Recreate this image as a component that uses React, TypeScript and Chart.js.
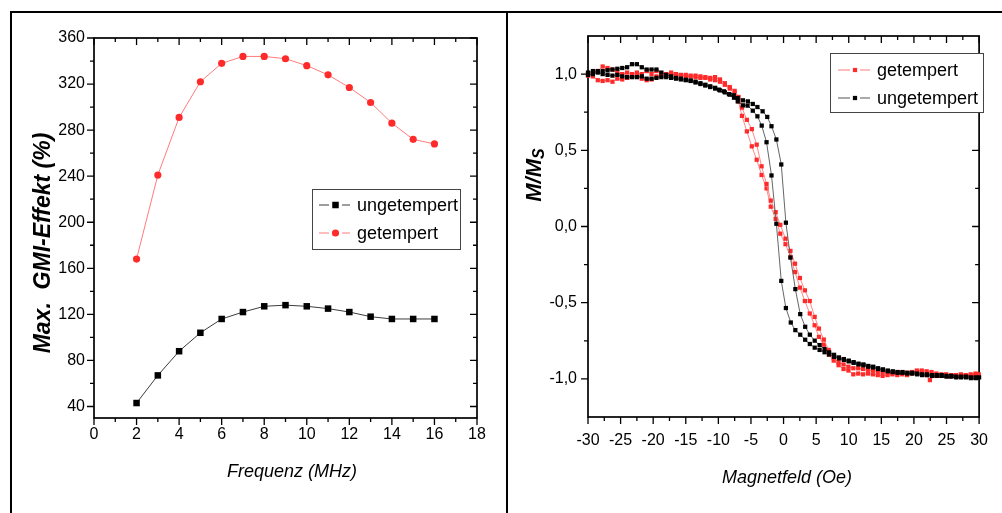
import React, { useEffect, useRef } from "react";
import { Chart, registerables } from "chart.js";

Chart.register(...registerables);

const FONT = '"Liberation Sans", Arial, Helvetica, sans-serif';

// ---------- left panel: max. GMI effect vs frequency ----------
const FREQUENZ = [2, 3, 4, 5, 6, 7, 8, 9, 10, 11, 12, 13, 14, 15, 16];
const GMI_UNGETEMPERT = [43, 67, 88, 104, 116, 122, 127, 128, 127, 125, 122, 118, 116, 116, 116];
const GMI_GETEMPERT = [168, 241, 291, 322, 338, 344, 344, 342, 336, 328, 317, 304, 286, 272, 268];
const FREQ_TICKS = [0, 2, 4, 6, 8, 10, 12, 14, 16, 18];
const GMI_TICKS = [40, 80, 120, 160, 200, 240, 280, 320, 360];

// ---------- right panel: hysteresis loops M/Ms vs field ----------
const FELD_TICKS = [-30, -25, -20, -15, -10, -5, 0, 5, 10, 15, 20, 25, 30];
const MMS_TICKS = [-1, -0.5, 0, 0.5, 1];

// ungetempert, branch A (shifted to positive field)
const UNG_A_X = [
  -30, -29.25, -28.5, -27.75, -27, -26.25, -25.5, -24.75, -24, -23.25, -22.5, -21.75, -21, -20.25,
  -19.5, -18.75, -18, -17.25, -16.5, -15.75, -15, -14.25, -13.5, -12.75, -12, -11.25, -10.5,
  -9.9, -9.14, -8.38, -7.63, -7.03, -6.23, -5.47, -4.72, -4.01, -3.21, -2.5, -1.85, -1.1, -0.35,
  0.36, 1.06, 1.81, 2.56, 3.32, 4.03, 4.78, 5.53, 6.29,
  7.0, 7.75, 8.5, 9.25, 10, 10.75, 11.5, 12.25, 13, 13.75, 14.5, 15.25, 16, 16.75, 17.5, 18.25,
  19, 19.75, 20.5, 21.25, 22, 22.75, 23.5, 24.25, 25, 25.75, 26.5, 27.25, 28, 28.75, 29.5,
];
const UNG_A_Y = [
  1.01, 1.02, 1.02, 1.02, 1.025, 1.03, 1.035, 1.04, 1.045, 1.065, 1.065, 1.045, 1.03, 1.03,
  1.03, 1.01, 0.995, 0.985, 0.975, 0.97, 0.963, 0.958, 0.95, 0.94, 0.93, 0.92, 0.91,
  0.898, 0.887, 0.869, 0.861, 0.843, 0.828, 0.821, 0.804, 0.784, 0.756, 0.719, 0.658, 0.571, 0.407,
  0.025, -0.204, -0.411, -0.575, -0.658, -0.71, -0.749, -0.778, -0.804,
  -0.826, -0.842, -0.859, -0.87, -0.88, -0.89, -0.9, -0.905, -0.915, -0.92, -0.93, -0.938, -0.945,
  -0.95, -0.955, -0.955, -0.96, -0.96, -0.965, -0.97, -0.97, -0.975, -0.975, -0.975, -0.98, -0.98,
  -0.985, -0.985, -0.985, -0.99, -0.99,
];
// ungetempert, branch B (shifted to negative field)
const UNG_B_X = [
  -30, -29.25, -28.5, -27.75, -27, -26.25, -25.5, -24.75, -24, -23.25, -22.5, -21.75, -21, -20.25,
  -19.5, -18.75, -18, -17.25, -16.5, -15.75, -15, -14.25, -13.5, -12.75, -12, -11.25, -10.5,
  -9.75, -9, -8.25, -7.6,
  -7.03, -6.23, -5.52, -4.72, -4.01, -3.35, -2.61, -1.85, -1.1, -0.35, 0.36, 1.11, 1.81, 2.56,
  3.32, 4.03, 4.78, 5.53, 6.29,
  7.0, 7.75, 8.5, 9.25, 10, 10.75, 11.5, 12.25, 13, 13.75, 14.5, 15.25, 16, 16.75, 17.5, 18.25,
  19, 19.75, 20.5, 21.25, 22, 22.75, 23.5, 24.25, 25, 25.75, 26.5, 27.25, 28, 28.75, 29.5, 30,
];
const UNG_B_Y = [
  0.995, 1.0, 1.01, 1.0, 0.995, 0.99, 0.995, 0.985, 0.98, 0.98, 0.98, 0.985, 0.97, 0.97,
  0.975, 0.98, 0.98, 0.975, 0.97, 0.965, 0.96, 0.955, 0.945, 0.935, 0.925, 0.915, 0.905,
  0.893, 0.88, 0.865, 0.845,
  0.821, 0.795, 0.793, 0.76, 0.723, 0.662, 0.553, 0.335, 0.018, -0.357, -0.535, -0.63, -0.68, -0.71,
  -0.743, -0.771, -0.795, -0.81, -0.825,
  -0.84, -0.855, -0.865, -0.875, -0.885, -0.895, -0.905, -0.91, -0.92, -0.925, -0.935, -0.94, -0.95,
  -0.955, -0.96, -0.96, -0.965, -0.965, -0.97, -0.975, -0.975, -0.98, -0.98, -0.98, -0.985, -0.985,
  -0.99, -0.99, -0.99, -0.995, -0.995, -0.99,
];
// getempert, branch A (shifted to positive field)
const GET_A_X = [
  -30, -29.25, -28.5, -27.75, -27, -26.25, -25.5, -24.75, -24, -23.25, -22.5, -21.75, -21, -20.25,
  -19.5, -18.75, -18, -17.25, -16.5, -15.75, -15, -14.25, -13.5, -12.75, -12, -11.25, -10.5,
  -9.75, -9, -8.25, -7.5,
  -6.9, -6.38, -5.63, -4.87, -4.12, -3.37, -2.61, -1.96, -1.21, -0.5, 0.3, 1.06, 1.76, 2.51, 3.27,
  4.02, 4.77, 5.43, 6.18, 6.93,
  7.69, 8.44, 9.2, 9.95, 10.7, 11.45, 12.2, 12.95, 13.7, 14.45, 15.2, 15.95, 16.7, 17.45, 18.2,
  18.95, 19.7, 20.45, 21.2, 21.95, 22.7, 23.45, 24.2, 24.95, 25.7, 26.45, 27.2, 27.95, 28.7, 29.45,
];
const GET_A_Y = [
  1.0, 1.005, 1.02, 1.05, 1.04, 1.03, 1.01, 1.0, 1.01, 1.0, 1.01, 1.0, 1.02, 1.0,
  1.02, 1.005, 1.0, 1.01, 1.0, 0.995, 0.995, 0.99, 0.99, 0.985, 0.98, 0.975, 0.98,
  0.965, 0.94, 0.915, 0.89,
  0.85, 0.78, 0.7, 0.639, 0.537, 0.395, 0.279, 0.17, 0.094, 0.011, -0.08, -0.16, -0.244, -0.338, -0.419,
  -0.489, -0.593, -0.67, -0.742, -0.81,
  -0.86, -0.89, -0.905, -0.92, -0.93, -0.93, -0.935, -0.94, -0.945, -0.95, -0.955, -0.955, -0.96,
  -0.955, -0.96, -0.96, -0.955, -0.945, -0.945, -0.95, -0.955, -0.965, -0.97, -0.97, -0.975, -0.975,
  -0.97, -0.975, -0.97, -0.965,
];
// getempert, branch B (shifted to negative field)
const GET_B_X = [
  -30, -29.25, -28.5, -27.75, -27, -26.25, -25.5, -24.75, -24, -23.25, -22.5, -21.75, -21, -20.25,
  -19.5, -18.75, -18, -17.25, -16.5, -15.75, -15, -14.25, -13.5, -12.75, -12, -11.25, -10.5,
  -9.75, -9, -8.25, -7.5,
  -6.9, -6.38, -5.63, -4.87, -4.12, -3.37, -2.61, -1.96, -1.21, -0.5, 0.3, 1.06, 1.76, 2.51, 3.27,
  4.02, 4.77, 5.43, 6.18, 6.93,
  7.69, 8.44, 9.2, 9.95, 10.7, 11.45, 12.2, 12.95, 13.7, 14.45, 15.2, 15.95, 16.7, 17.45, 18.2,
  18.95, 19.7, 20.45, 21.2, 21.95, 22.45, 23.2, 23.95, 24.7, 25.45, 26.2, 26.95, 27.7, 28.45, 29.2, 29.95,
];
const GET_B_Y = [
  0.99, 0.985, 0.96, 0.955, 0.96, 0.95, 0.97, 0.965, 0.975, 0.985, 0.99, 0.97, 0.96, 0.965,
  0.985, 0.99, 0.99, 1.0, 0.995, 0.99, 0.985, 0.985, 0.98, 0.975, 0.975, 0.965, 0.96,
  0.95, 0.93, 0.905, 0.875,
  0.82, 0.726, 0.624, 0.526, 0.438, 0.338, 0.25, 0.13, 0.05, -0.047, -0.116, -0.2, -0.299, -0.401, -0.489,
  -0.571, -0.648, -0.724, -0.775, -0.84,
  -0.88, -0.91, -0.935, -0.945, -0.97, -0.965, -0.97, -0.965, -0.97, -0.975, -0.98, -0.975, -0.97,
  -0.975, -0.97, -0.975, -0.965, -0.96, -0.965, -0.975, -1.008, -0.98, -0.98, -0.98, -0.985, -0.98,
  -0.985, -0.98, -0.985, -0.975, -0.97,
];

const BLACK = "#000000";
const BLACK_LINE = "#3c3c3c";
const RED = "#ff2b2b";
const RED_LINE = "#ff7b7b";

const pts = (xs: number[], ys: number[]) => xs.map((x, i) => ({ x, y: ys[i] }));

function framePlugin(id: string, major: number, minor: number) {
  return {
    id,
    beforeDatasetsDraw(chart: any) {
      const { ctx, chartArea: a } = chart;
      const xs = chart.scales.x;
      const ys = chart.scales.y;
      const xv = xs.ticks.map((t: any) => t.value);
      const yv = ys.ticks.map((t: any) => t.value);
      const mids = (v: number[]) => v.slice(0, -1).map((u, i) => (u + v[i + 1]) / 2);
      ctx.save();
      ctx.strokeStyle = "#000";
      ctx.lineWidth = 1.3;
      ctx.beginPath();
      const xt = (v: number, len: number) => {
        const p = xs.getPixelForValue(v);
        ctx.moveTo(p, a.bottom);
        ctx.lineTo(p, a.bottom + len);
        ctx.moveTo(p, a.top);
        ctx.lineTo(p, a.top + len);
      };
      const yt = (v: number, len: number) => {
        const p = ys.getPixelForValue(v);
        ctx.moveTo(a.left, p);
        ctx.lineTo(a.left - len, p);
        ctx.moveTo(a.right, p);
        ctx.lineTo(a.right - len, p);
      };
      xv.forEach((v: number) => xt(v, major));
      mids(xv).forEach((v) => xt(v, minor));
      yv.forEach((v: number) => yt(v, major));
      mids(yv).forEach((v) => yt(v, minor));
      ctx.stroke();
      ctx.lineWidth = 1.7;
      ctx.strokeRect(a.left, a.top, a.right - a.left, a.bottom - a.top);
      ctx.restore();
    },
  };
}

function legendPlugin(id: string, o: any) {
  return {
    id,
    afterDatasetsDraw(chart: any) {
      const ctx = chart.ctx;
      ctx.save();
      ctx.fillStyle = "#fff";
      ctx.fillRect(o.x, o.y, o.w, o.h);
      ctx.strokeStyle = "#444";
      ctx.lineWidth = 1;
      ctx.strokeRect(o.x + 0.5, o.y + 0.5, o.w, o.h);
      o.items.forEach((di: number, i: number) => {
        const ds = chart.data.datasets[di];
        const y = o.rows[i];
        ctx.strokeStyle = ds.borderColor;
        ctx.lineWidth = 1;
        ctx.beginPath();
        ctx.moveTo(o.seg1[0], y);
        ctx.lineTo(o.seg1[1], y);
        ctx.moveTo(o.seg2[0], y);
        ctx.lineTo(o.seg2[1], y);
        ctx.stroke();
        ctx.fillStyle = ds.pointBackgroundColor;
        if (ds.pointStyle === "circle") {
          ctx.beginPath();
          ctx.arc(o.markX, y, ds.pointRadius, 0, Math.PI * 2);
          ctx.fill();
        } else {
          const s = ds.pointRadius * Math.SQRT1_2;
          ctx.fillRect(o.markX - s, y - s, 2 * s, 2 * s);
        }
        ctx.fillStyle = "#000";
        ctx.font = `18px ${FONT}`;
        ctx.textAlign = "left";
        ctx.textBaseline = "middle";
        ctx.fillText(ds.label, o.textX, y + 1);
      });
      ctx.restore();
    },
  };
}

function titlesPlugin(id: string, items: any[]) {
  return {
    id,
    afterDraw(chart: any) {
      const ctx = chart.ctx;
      for (const t of items) {
        ctx.save();
        ctx.translate(t.x, t.y);
        if (t.rotate) ctx.rotate(-Math.PI / 2);
        ctx.fillStyle = "#000";
        ctx.textBaseline = "middle";
        ctx.font = t.font;
        if (t.sub) {
          const w1 = ctx.measureText(t.text).width;
          ctx.font = t.subFont;
          const w2 = ctx.measureText(t.sub).width;
          const start = -(w1 + w2) / 2;
          ctx.textAlign = "left";
          ctx.font = t.font;
          ctx.fillText(t.text, start, 0);
          ctx.font = t.subFont;
          ctx.fillText(t.sub, start + w1, t.subShift);
        } else {
          ctx.textAlign = "center";
          ctx.fillText(t.text, 0, 0);
        }
        ctx.restore();
      }
    },
  };
}

function axis(min: number, max: number, ticks: number[], padding: number, fmt: (v: number) => string, fit: (s: any) => void) {
  return {
    type: "linear" as const,
    min,
    max,
    afterBuildTicks: (s: any) => {
      s.ticks = ticks.map((v) => ({ value: v }));
    },
    afterFit: fit,
    grid: { display: false, drawTicks: false },
    border: { display: false },
    ticks: {
      color: "#000",
      font: { family: FONT, size: 16 },
      padding,
      autoSkip: false,
      maxRotation: 0,
      minRotation: 0,
      callback: (v: any) => fmt(Number(v)),
    },
  };
}

function leftConfig(): any {
  return {
    type: "scatter",
    data: {
      datasets: [
        {
          label: "ungetempert",
          data: pts(FREQUENZ, GMI_UNGETEMPERT),
          showLine: true,
          borderColor: BLACK_LINE,
          borderWidth: 1,
          pointStyle: "rect",
          pointRadius: 4.6,
          pointBackgroundColor: BLACK,
          pointBorderWidth: 0,
          tension: 0,
        },
        {
          label: "getempert",
          data: pts(FREQUENZ, GMI_GETEMPERT),
          showLine: true,
          borderColor: RED_LINE,
          borderWidth: 1,
          pointStyle: "circle",
          pointRadius: 3.6,
          pointBackgroundColor: RED,
          pointBorderWidth: 0,
          tension: 0,
        },
      ],
    },
    options: {
      responsive: false,
      animation: false,
      devicePixelRatio: 1,
      layout: { padding: { left: 0, top: 38, right: 525, bottom: 0 } },
      plugins: { legend: { display: false }, tooltip: { enabled: false } },
      scales: {
        x: axis(0, 18, FREQ_TICKS, 7, (v) => String(v), (s) => { s.height = 95; }),
        y: axis(30, 360, GMI_TICKS, 9, (v) => String(v), (s) => { s.width = 94; }),
      },
    },
    plugins: [
      framePlugin("frameL", 7, 4),
      legendPlugin("legendL", {
        x: 312, y: 189, w: 148, h: 60, rows: [205, 233],
        seg1: [319, 329], seg2: [342, 350], markX: 335.5, textX: 357,
        items: [0, 1],
      }),
      titlesPlugin("titlesL", [
        { text: "Frequenz (MHz)", x: 292, y: 472, font: `italic 18px ${FONT}` },
        { text: "Max.  GMI-Effekt (%)", x: 44, y: 243, rotate: true, font: `italic bold 23px ${FONT}` },
      ]),
    ],
  };
}

function rightConfig(): any {
  const common = {
    showLine: true,
    borderWidth: 0.9,
    pointStyle: "rect",
    pointRadius: 3,
    pointBorderWidth: 0,
    tension: 0,
    clip: false,
  };
  return {
    type: "scatter",
    data: {
      datasets: [
        { ...common, label: "ungetempert", data: pts(UNG_A_X, UNG_A_Y), borderColor: "#555555", pointBackgroundColor: BLACK },
        { ...common, label: "ungetempert", data: pts(UNG_B_X, UNG_B_Y), borderColor: "#555555", pointBackgroundColor: BLACK },
        { ...common, label: "getempert", data: pts(GET_A_X, GET_A_Y), borderColor: RED_LINE, pointBackgroundColor: RED },
        { ...common, label: "getempert", data: pts(GET_B_X, GET_B_Y), borderColor: RED_LINE, pointBackgroundColor: RED },
      ],
    },
    options: {
      responsive: false,
      animation: false,
      devicePixelRatio: 1,
      layout: { padding: { left: 0, top: 36, right: 16, bottom: 0 } },
      plugins: { legend: { display: false }, tooltip: { enabled: false } },
      scales: {
        x: axis(-30, 30, FELD_TICKS, 14, (v) => String(v), (s) => { s.height = 96; }),
        y: axis(-1.25, 1.25, MMS_TICKS, 11, (v) => v.toFixed(1).replace(".", ","), (s) => { s.width = 588; }),
      },
    },
    plugins: [
      framePlugin("frameR", 7, 4),
      legendPlugin("legendR", {
        x: 830, y: 53, w: 153, h: 59, rows: [70, 98],
        seg1: [838, 850], seg2: [860, 870], markX: 855, textX: 877,
        items: [2, 0],
      }),
      titlesPlugin("titlesR", [
        { text: "Magnetfeld (Oe)", x: 787, y: 478, font: `italic 18px ${FONT}` },
        {
          text: "M/M", sub: "S", x: 535, y: 175, rotate: true,
          font: `italic bold 22px ${FONT}`, subFont: `italic bold 16px ${FONT}`, subShift: 5,
        },
      ]),
    ],
  };
}

function ChartCanvas({ make }: { make: () => any }) {
  const ref = useRef<HTMLCanvasElement | null>(null);
  useEffect(() => {
    if (!ref.current) return;
    const chart = new Chart(ref.current, make());
    return () => chart.destroy();
  }, [make]);
  return (
    <canvas
      ref={ref}
      width={1002}
      height={513}
      style={{ position: "absolute", left: 0, top: 0, width: 1002, height: 513 }}
    />
  );
}

export default function App() {
  return (
    <div style={{ position: "absolute", left: 0, top: 0, width: 1002, height: 513, background: "#fff", overflow: "hidden" }}>
      <div style={{ position: "absolute", left: 10, top: 11, width: 992, height: 2, background: "#000" }} />
      <div style={{ position: "absolute", left: 10, top: 11, width: 2, height: 502, background: "#000" }} />
      <div style={{ position: "absolute", left: 506, top: 11, width: 2, height: 502, background: "#000" }} />
      <ChartCanvas make={leftConfig} />
      <ChartCanvas make={rightConfig} />
    </div>
  );
}
